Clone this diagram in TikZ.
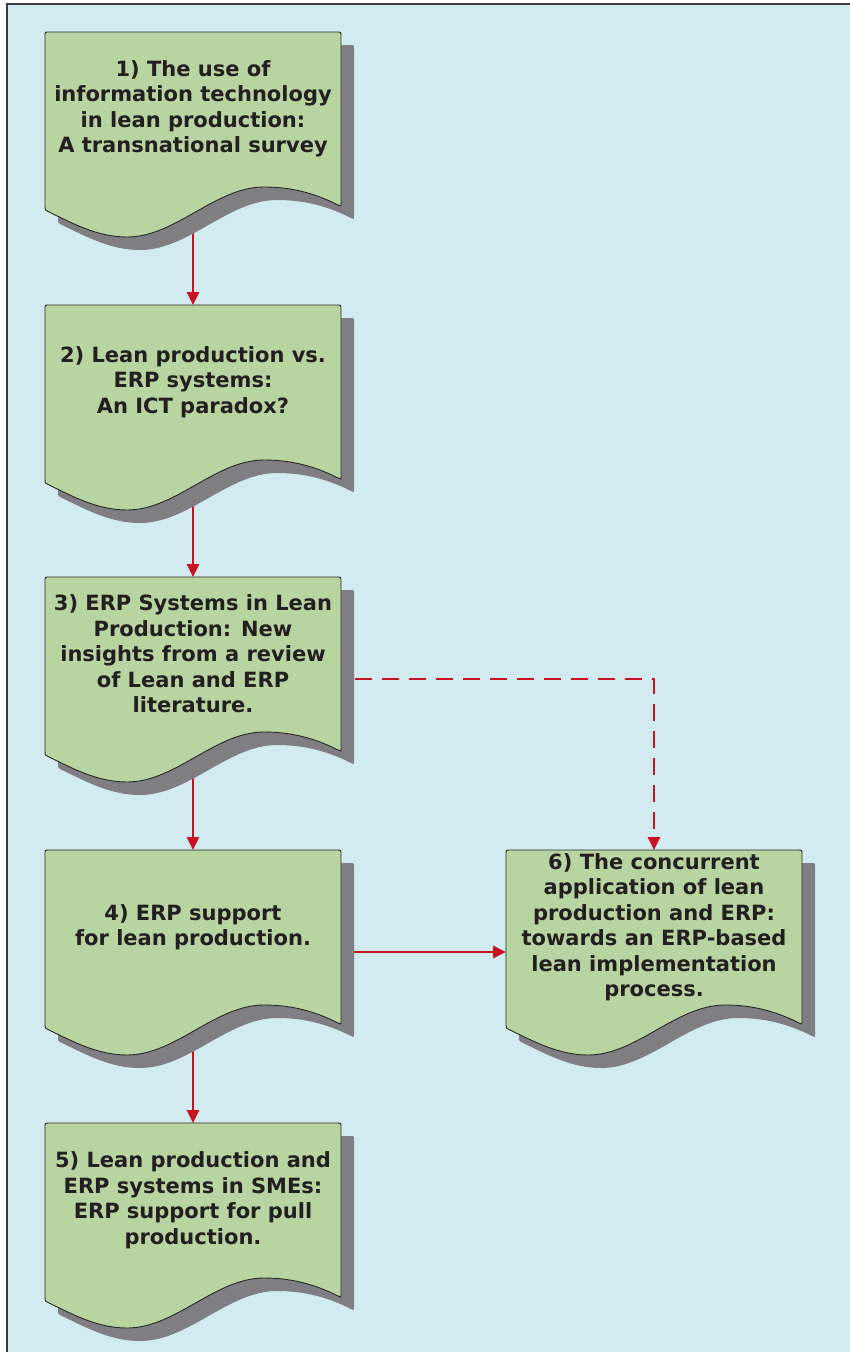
\documentclass[tikz,border=0pt]{standalone}
\usepackage{fontspec}
\setmainfont{DejaVu Sans}
\usetikzlibrary{arrows.meta}

\definecolor{paneblue}{RGB}{210,235,240}
\definecolor{docgreen}{RGB}{184,212,160}
\definecolor{docshade}{RGB}{126,126,131}
\definecolor{docedge}{RGB}{40,40,40}
\definecolor{linkred}{RGB}{200,18,34}
\definecolor{inkdark}{RGB}{35,31,32}
\definecolor{framegray}{RGB}{60,60,60}

\pgfdeclarelayer{pane}
\pgfdeclarelayer{links}
\pgfsetlayers{pane,links,main}

% outline of a document symbol, 296 wide, with a wavy lower edge
\newcommand\docoutline{(0,4) .. controls (0,0) .. (4,0) -- (292,0) .. controls (296,0) .. (296,4) -- (296,171) .. controls (296,174.5) .. (292,172.5) .. controls (269,161) and (246,155) .. (219,155) .. controls (170,155) and (131,205) .. (82,205) .. controls (52,205) and (27,191) .. (3,179.5) .. controls (0,178) .. (0,175) -- cycle}

\tikzset{
  docfill/.style={fill=docgreen, draw=docedge, line width=0.9pt},
  docshadow/.style={fill=docshade},
  docanchor/.style={rectangle, minimum width=296pt, minimum height=204pt, inner sep=0pt, outer sep=0pt},
  doctext/.style={align=center, text=inkdark, font=\fontsize{21}{25.5}\selectfont\bfseries, inner sep=0pt},
  link/.style={draw=linkred, line width=2.6pt, -{Triangle[length=13pt,width=12pt]}},
  linkdash/.style={link, dash pattern=on 17pt off 10pt},
}

% #1 name, #2 left edge, #3 top edge, #4 caption
\newcommand\docbox[4]{%
  \fill[docshadow, shift={(#2+13,#3+13)}] \docoutline;
  \draw[docfill, shift={(#2,#3)}] \docoutline;
  \node[docanchor] (#1) at (#2+148,#3+102) {};
  \node[doctext] (#1-label) at (#2+148,#3+77) {#4};
}

\begin{document}
\begin{tikzpicture}[x=1pt, y=-1pt]
  \useasboundingbox (0,0) rectangle (850,1352);

  \begin{pgfonlayer}{pane}
    \fill[white] (0,0) rectangle (850,1352);
    \fill[paneblue] (7,4) rectangle (850,1352);
    \draw[framegray, line width=1.2pt] (7,1352) -- (7,4) -- (850,4);
  \end{pgfonlayer}

  \docbox{d1}{45}{32}{1) The use of\\information technology\\in lean production:\\A transnational survey}
  \docbox{d2}{45}{305}{2) Lean production vs.\\ERP systems:\\An ICT paradox?}
  \docbox{d3}{45}{577}{3) ERP Systems in Lean\\Production: New\\insights from a review\\of Lean and ERP\\literature.}
  \docbox{d4}{45}{850}{4) ERP support\\for lean production.}
  \docbox{d5}{45}{1123}{5) Lean production and\\ERP systems in SMEs:\\ERP support for pull\\production.}
  \docbox{d6}{506}{850}{6) The concurrent\\application of lean\\production and ERP:\\towards an ERP-based\\lean implementation\\process.}

  \begin{pgfonlayer}{links}
    \draw[link] (d1.center) -- (d2.north);
    \draw[link] (d2.center) -- (d3.north);
    \draw[link] (d3.center) -- (d4.north);
    \draw[link] (d4.center) -- (d5.north);
    \draw[link] (d4.center) -- (d6.west);
    \draw[linkdash] (d3.center) -| (d6.north);
  \end{pgfonlayer}
\end{tikzpicture}
\end{document}
